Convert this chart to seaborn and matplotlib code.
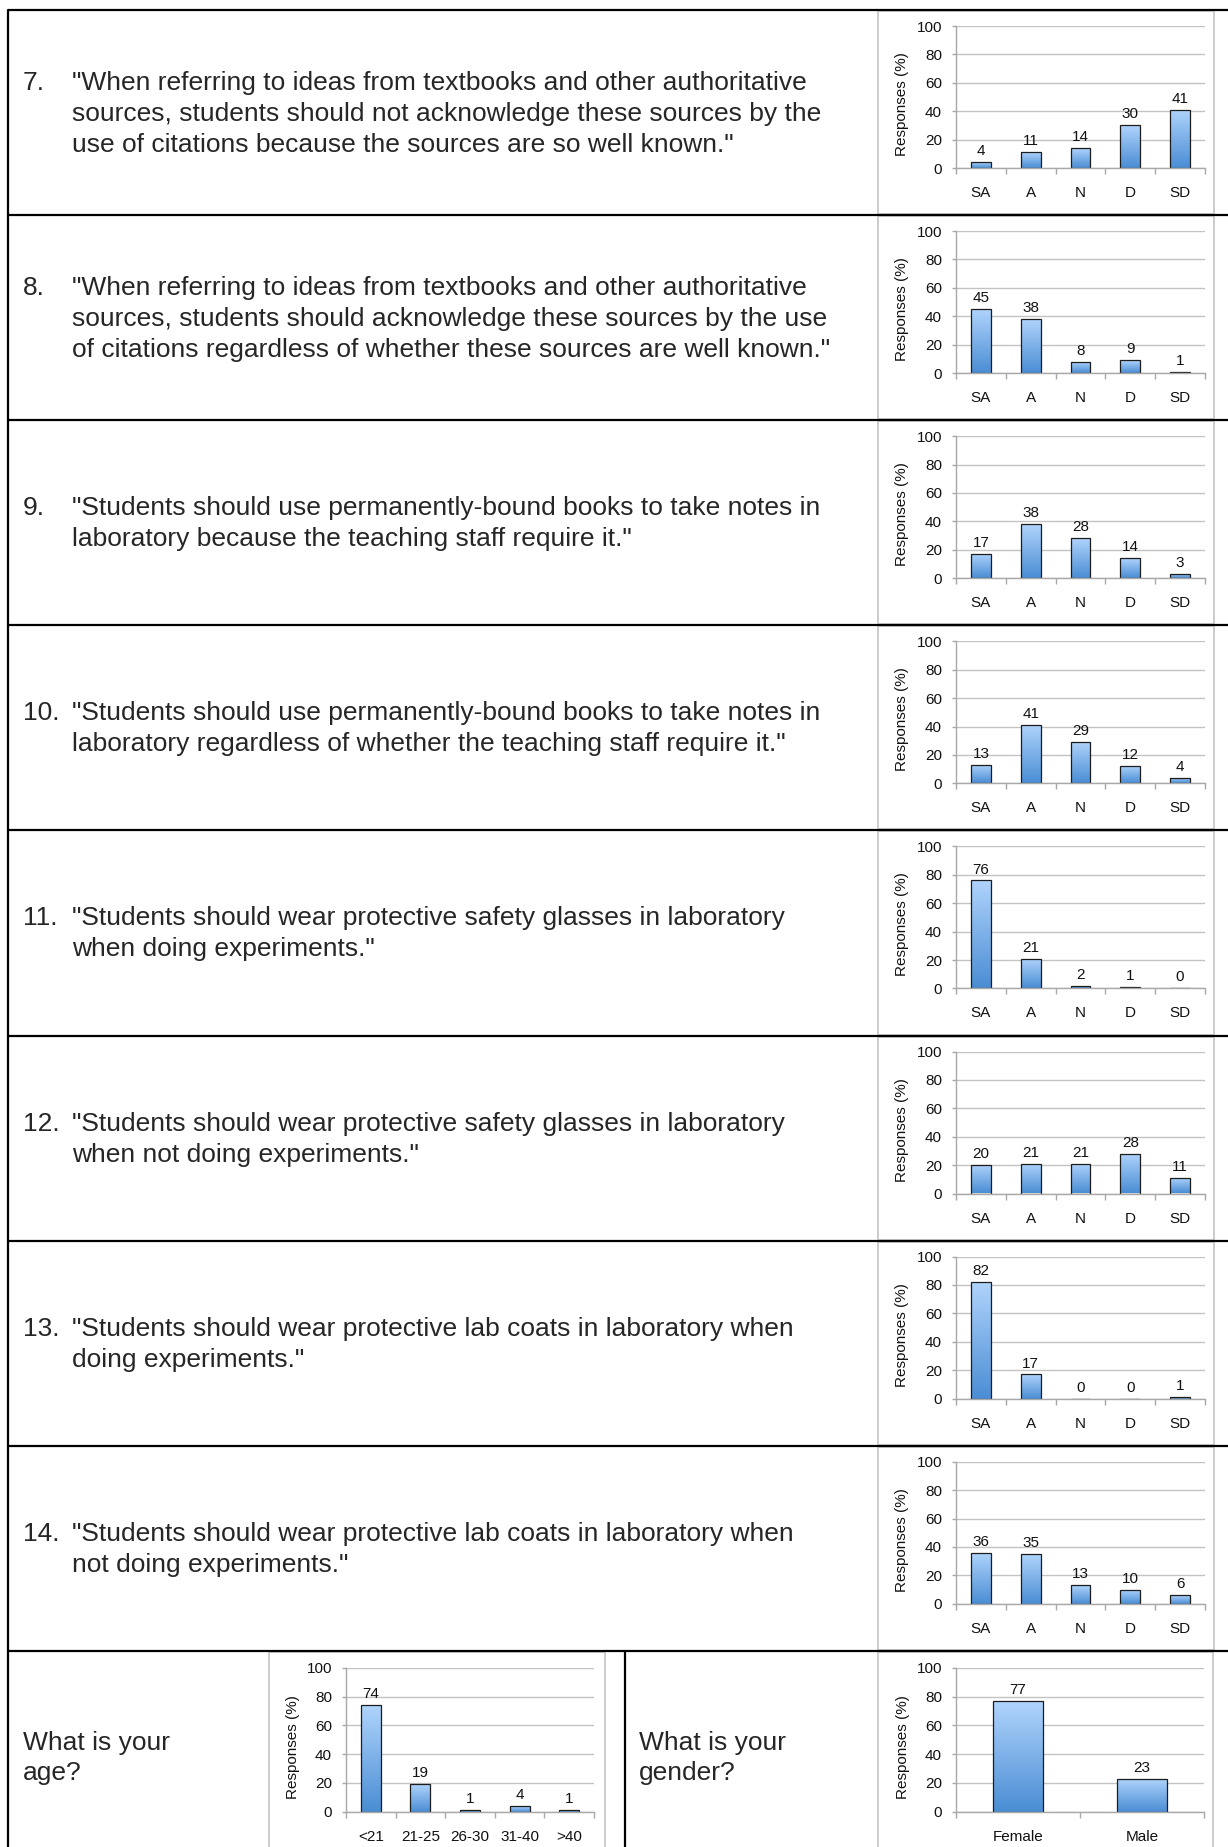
import numpy as np
import matplotlib
matplotlib.use('Agg')
import matplotlib.pyplot as plt
from matplotlib.colors import LinearSegmentedColormap
from matplotlib.patches import Rectangle
import seaborn as sns

# --- data ---
likert = ['SA', 'A', 'N', 'D', 'SD']
q7 = [4, 11, 14, 30, 41]
q8 = [45, 38, 8, 9, 1]
q9 = [17, 38, 28, 14, 3]
q10 = [13, 41, 29, 12, 4]
q11 = [76, 21, 2, 1, 0]
q12 = [20, 21, 21, 28, 11]
q13 = [82, 17, 0, 0, 1]
q14 = [36, 35, 13, 10, 6]

age_groups = ['<21', '21-25', '26-30', '31-40', '>40']
age_pct = [74, 19, 1, 4, 1]
genders = ['Female', 'Male']
gender_pct = [77, 23]

q_numbers = ['7.', '8.', '9.', '10.', '11.', '12.', '13.', '14.']
q_lines = [
    ['"When referring to ideas from textbooks and other authoritative',
     'sources, students should not acknowledge these sources by the',
     'use of citations because the sources are so well known."'],
    ['"When referring to ideas from textbooks and other authoritative',
     'sources, students should acknowledge these sources by the use',
     'of citations regardless of whether these sources are well known."'],
    ['"Students should use permanently-bound books to take notes in',
     'laboratory because the teaching staff require it."'],
    ['"Students should use permanently-bound books to take notes in',
     'laboratory regardless of whether the teaching staff require it."'],
    ['"Students should wear protective safety glasses in laboratory',
     'when doing experiments."'],
    ['"Students should wear protective safety glasses in laboratory',
     'when not doing experiments."'],
    ['"Students should wear protective lab coats in laboratory when',
     'doing experiments."'],
    ['"Students should wear protective lab coats in laboratory when',
     'not doing experiments."'],
]
all_q = [q7, q8, q9, q10, q11, q12, q13, q14]

sns.set_style('white')
plt.rcParams['font.family'] = ['Liberation Sans', 'DejaVu Sans']
chart_font = ['Liberation Sans Narrow', 'Liberation Sans', 'DejaVu Sans']

W, H = 1228, 1847
fig = plt.figure(figsize=(W / 100, H / 100), dpi=100)

# background axes in pixel units for the table grid and question text
bg = fig.add_axes([0, 0, 1, 1])
bg.set_xlim(0, W)
bg.set_ylim(H, 0)
bg.axis('off')

row_h = 205.1
row0 = 10
grad = np.linspace(0, 1, 256).reshape(-1, 1)
bar_cmap = LinearSegmentedColormap.from_list('bar', ['#4a8dd4', '#b0d4fc'])


def px_axes(x0, x1, y0, y1):
    return fig.add_axes([x0 / W, 1 - y1 / H, (x1 - x0) / W, (y1 - y0) / H])


def draw_chart(ax, cats, vals):
    sns.barplot(x=cats, y=vals, ax=ax, color='#7fb0ea', width=0.4,
                saturation=1, edgecolor='#1c1c1c', linewidth=0.9)
    for p, v in zip(ax.patches, vals):
        x0, w, h = p.get_x(), p.get_width(), p.get_height()
        if h > 0:
            im = ax.imshow(grad, cmap=bar_cmap, extent=(x0, x0 + w, 0, h),
                           origin='lower', aspect='auto', zorder=1.5)
            im.set_clip_path(p)
        p.set_facecolor('none')
        p.set_zorder(2)
        ax.annotate(str(v), (x0 + w / 2, h), xytext=(0, 5),
                    textcoords='offset points', ha='center', va='baseline',
                    fontsize=11, family=chart_font, color='#111111')
    ax.set_xlim(-0.5, len(cats) - 0.5)
    ax.set_ylim(0, 100)
    ax.set_yticks(range(0, 101, 20))
    ax.set_xticks(np.arange(-0.5, len(cats)), minor=True)
    ax.yaxis.grid(True, color='#c3c3c3', lw=1)
    ax.set_axisbelow(True)
    ax.patch.set_alpha(0)
    for s in ['top', 'right']:
        ax.spines[s].set_visible(False)
    for s in ['left', 'bottom']:
        ax.spines[s].set_color('#a8a8a8')
        ax.spines[s].set_linewidth(1)
    ax.tick_params(axis='x', which='major', length=0, pad=13,
                   labelcolor='#111111')
    ax.tick_params(axis='x', which='minor', length=4, width=1,
                   color='#a8a8a8', direction='out', bottom=True)
    ax.tick_params(axis='y', length=3, width=1, color='#a8a8a8', left=True,
                   pad=7, labelcolor='#111111')
    for lab in ax.get_xticklabels() + ax.get_yticklabels():
        lab.set_family(chart_font)
        lab.set_fontsize(11)
    ax.set_xlabel('')
    ax.set_ylabel('Responses (%)', fontsize=11, family=chart_font,
                  va='center', color='#111111')
    ax.yaxis.set_label_coords(-0.215, 0.45)


# question rows
for i, (num, lines, vals) in enumerate(zip(q_numbers, q_lines, all_q)):
    top = row0 + i * row_h
    center = top + row_h / 2
    n = len(lines)
    for k, line in enumerate(lines):
        yb = center + (k - (n - 1) / 2) * 31 + 8
        if k == 0:
            bg.text(23, yb, num, fontsize=19, va='baseline', ha='left')
        bg.text(72, yb, line, fontsize=19, va='baseline', ha='left')
    bg.add_patch(Rectangle((878, top + 1), 336, row_h - 2, fill=False,
                           edgecolor='#c8c8c8', lw=1.3))
    ax = px_axes(956, 1205, top + 16, top + 158)
    draw_chart(ax, likert, vals)

# bottom row: age and gender
top = row0 + 8 * row_h
bg.text(23, 1750, 'What is your', fontsize=19, va='baseline')
bg.text(23, 1780, 'age?', fontsize=19, va='baseline')
bg.text(639, 1750, 'What is your', fontsize=19, va='baseline')
bg.text(639, 1780, 'gender?', fontsize=19, va='baseline')
bg.add_patch(Rectangle((269, top + 1), 336, H - top, fill=False,
                       edgecolor='#c8c8c8', lw=1.3))
bg.add_patch(Rectangle((878, top + 1), 335, H - top, fill=False,
                       edgecolor='#c8c8c8', lw=1.3))
ax_age = px_axes(346, 594, top + 17, top + 161)
draw_chart(ax_age, age_groups, age_pct)
ax_gender = px_axes(956, 1204, top + 17, top + 161)
draw_chart(ax_gender, genders, gender_pct)

# table lines
for i in range(9):
    y = row0 + i * row_h
    bg.plot([8, W], [y, y], color='black', lw=1.6, solid_capstyle='butt')
bg.plot([8, 8], [row0, H], color='black', lw=1.6)
bg.plot([625, 625], [top, H], color='black', lw=1.6)

fig.savefig('out.png', dpi=100)
